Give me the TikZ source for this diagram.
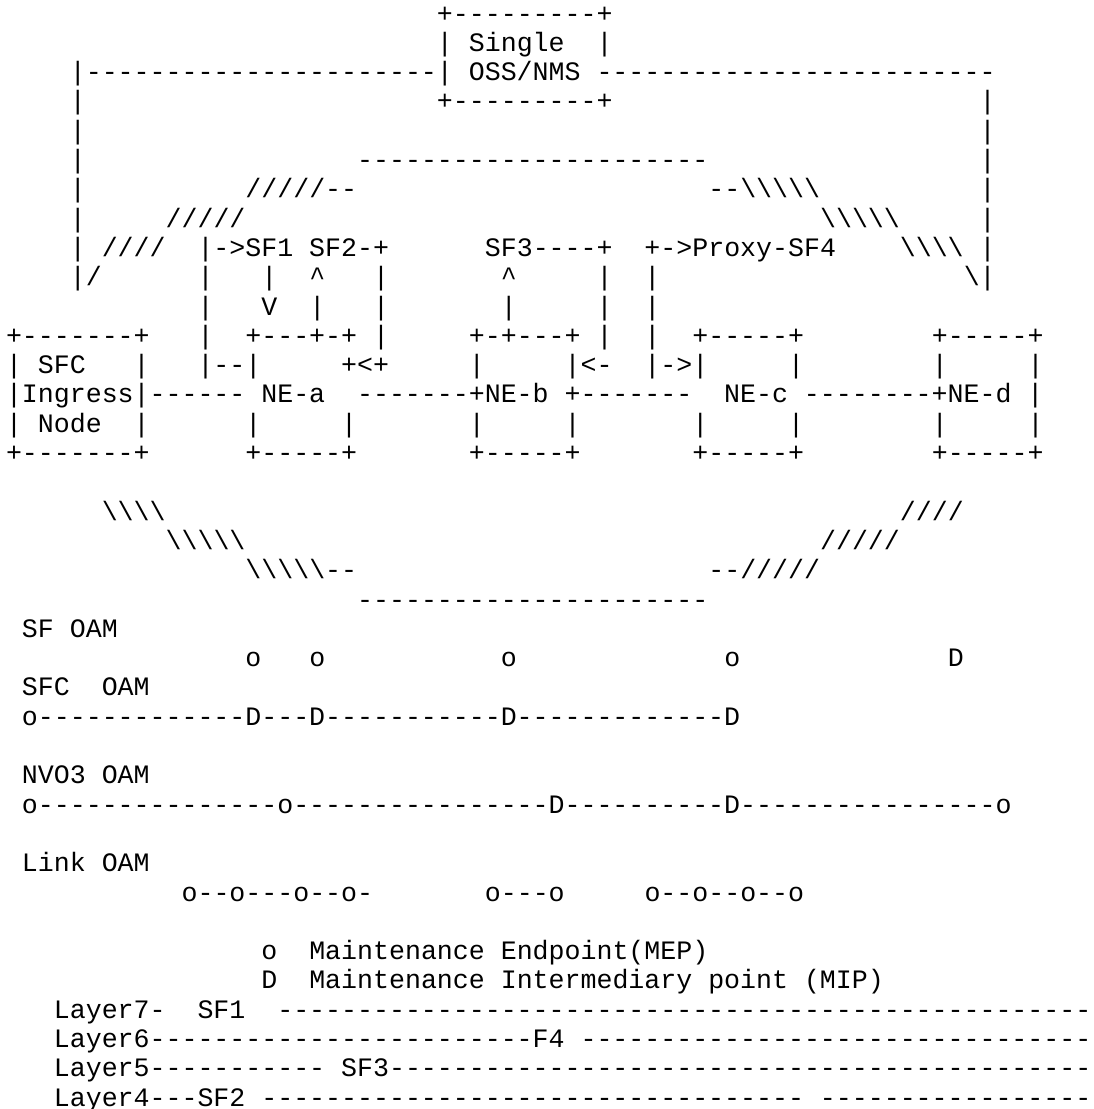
\documentclass[tikz,border=0pt]{standalone}
\usepackage{fontspec}
\newfontfamily\asciifont{Liberation Mono}
\newcommand\gap[1]{\hspace*{#1\fontdimen2\font}}
\newcommand\bs{\textbackslash}
\ExplSyntaxOn
\NewDocumentCommand\rep{mm}{\prg_replicate:nn{#1}{#2}}
\ExplSyntaxOff

\begin{document}
\begin{tikzpicture}[
  x=15.96pt,y=29.3pt,
  asciirow/.style={anchor=base west,inner sep=0pt,outer sep=0pt,text=black,
    font=\asciifont\fontsize{26.6pt}{29.3pt}\selectfont},
]
  \useasboundingbox (-6pt,22pt) rectangle (1087pt,-1087pt);
  \node[asciirow] (r01) at (0,0) {\gap{27}+\rep{9}{-}+};
  \node[asciirow] (r02) at (0,-1) {\gap{27}|\gap{1}Single\gap{2}|};
  \node[asciirow] (r03) at (0,-2) {\gap{4}|\rep{22}{-}|\gap{1}OSS/NMS\gap{1}\rep{25}{-}};
  \node[asciirow] (r04) at (0,-3) {\gap{4}|\gap{22}+\rep{9}{-}+\gap{23}|};
  \node[asciirow] (r05) at (0,-4) {\gap{4}|\gap{56}|};
  \node[asciirow] (r06) at (0,-5) {\gap{4}|\gap{17}\rep{22}{-}\gap{17}|};
  \node[asciirow] (r07) at (0,-6) {\gap{4}|\gap{10}/////--\gap{22}--\rep{5}{\bs}\gap{10}|};
  \node[asciirow] (r08) at (0,-7) {\gap{4}|\gap{5}/////\gap{36}\rep{5}{\bs}\gap{5}|};
  \node[asciirow] (r09) at (0,-8) {\gap{4}|\gap{1}////\gap{2}|->SF1\gap{1}SF2-+\gap{6}SF3----+\gap{2}+->Proxy-SF4\gap{4}\rep{4}{\bs}\gap{1}|};
  \node[asciirow] (r10) at (0,-9) {\gap{4}|/\gap{6}|\gap{3}|\gap{2}\textasciicircum\gap{3}|\gap{7}\textasciicircum\gap{5}|\gap{2}|\gap{19}\bs|};
  \node[asciirow] (r11) at (0,-10) {\gap{12}|\gap{3}V\gap{2}|\gap{3}|\gap{7}|\gap{5}|\gap{2}|};
  \node[asciirow] (r12) at (0,-11) {+-------+\gap{3}|\gap{2}+---+-+\gap{1}|\gap{5}+-+---+\gap{1}|\gap{2}|\gap{2}+-----+\gap{8}+-----+};
  \node[asciirow] (r13) at (0,-12) {|\gap{1}SFC\gap{3}|\gap{3}|--|\gap{5}+<+\gap{5}|\gap{5}|<-\gap{2}|->|\gap{5}|\gap{8}|\gap{5}|};
  \node[asciirow] (r14) at (0,-13) {|Ingress|------\gap{1}NE-a\gap{2}-------+NE-b\gap{1}+-------\gap{2}NE-c\gap{1}--------+NE-d\gap{1}|};
  \node[asciirow] (r15) at (0,-14) {|\gap{1}Node\gap{2}|\gap{6}|\gap{5}|\gap{7}|\gap{5}|\gap{7}|\gap{5}|\gap{8}|\gap{5}|};
  \node[asciirow] (r16) at (0,-15) {+-------+\gap{6}+-----+\gap{7}+-----+\gap{7}+-----+\gap{8}+-----+};
  \node[asciirow] (r18) at (0,-17) {\gap{6}\rep{4}{\bs}\gap{46}////};
  \node[asciirow] (r19) at (0,-18) {\gap{10}\rep{5}{\bs}\gap{36}/////};
  \node[asciirow] (r20) at (0,-19) {\gap{15}\rep{5}{\bs}--\gap{22}--/////};
  \node[asciirow] (r21) at (0,-20) {\gap{22}\rep{22}{-}};
  \node[asciirow] (r22) at (0,-21) {\gap{1}SF\gap{1}OAM};
  \node[asciirow] (r23) at (0,-22) {\gap{15}o\gap{3}o\gap{11}o\gap{13}o\gap{13}D};
  \node[asciirow] (r24) at (0,-23) {\gap{1}SFC\gap{2}OAM};
  \node[asciirow] (r25) at (0,-24) {\gap{1}o\rep{13}{-}D---D\rep{11}{-}D\rep{13}{-}D};
  \node[asciirow] (r27) at (0,-26) {\gap{1}NVO3\gap{1}OAM};
  \node[asciirow] (r28) at (0,-27) {\gap{1}o\rep{15}{-}o\rep{16}{-}D\rep{10}{-}D\rep{16}{-}o};
  \node[asciirow] (r30) at (0,-29) {\gap{1}Link\gap{1}OAM};
  \node[asciirow] (r31) at (0,-30) {\gap{11}o--o---o--o-\gap{7}o---o\gap{5}o--o--o--o};
  \node[asciirow] (r33) at (0,-32) {\gap{16}o\gap{2}Maintenance\gap{1}Endpoint(MEP)};
  \node[asciirow] (r34) at (0,-33) {\gap{16}D\gap{2}Maintenance\gap{1}Intermediary\gap{1}point\gap{1}(MIP)};
  \node[asciirow] (r35) at (0,-34) {\gap{3}Layer7-\gap{2}SF1\gap{2}\rep{51}{-}};
  \node[asciirow] (r36) at (0,-35) {\gap{3}Layer6\rep{24}{-}F4\gap{1}\rep{32}{-}};
  \node[asciirow] (r37) at (0,-36) {\gap{3}Layer5\rep{11}{-}\gap{1}SF3\rep{44}{-}};
  \node[asciirow] (r38) at (0,-37) {\gap{3}Layer4---SF2\gap{1}\rep{34}{-}\gap{1}\rep{17}{-}};
\end{tikzpicture}
\end{document}
